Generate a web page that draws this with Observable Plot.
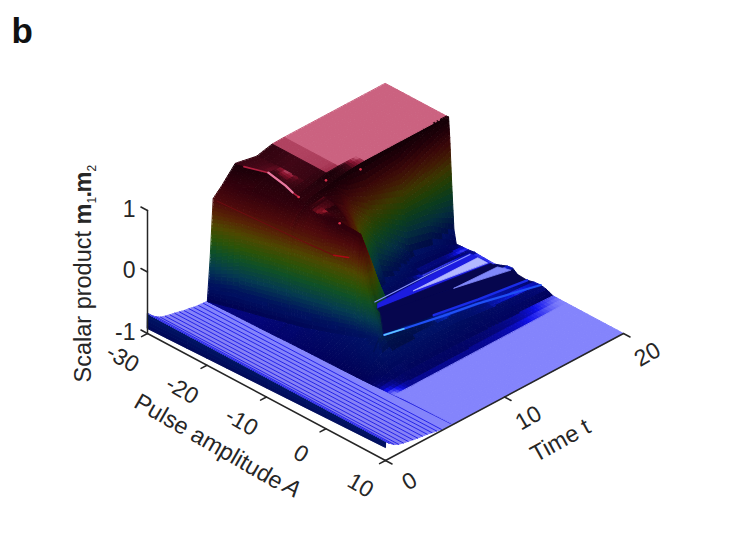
<!DOCTYPE html>
<html><head><meta charset="utf-8">
<style>html,body{margin:0;padding:0;background:#fff}svg{display:block}</style>
<script src="https://cdn.jsdelivr.net/npm/d3@7"></script>
<script src="https://cdn.jsdelivr.net/npm/@observablehq/plot@0.6"></script>
</head><body><div id="chart"></div>
<script>
// ---------- data ----------
const tickA=[-30,-20,-10,0,10], tickT=[0,10,20], tickZ=[-1,0,1];
// pulse amplitude stations
const ampl=[-30,-26,-22,-20.9,-19.7,-19.4,-19.2,-18.9,-18.5,-18.1,-17,-16,-15.3,-15,-14.6,-13.4,-12.4,-11.5,-10.5,-9.5,-8.6,-7.5,-6.7,-6,-5,-4,-3,-1.8,-.5,.5,2,10];
// times of the front wall knots at every station
const tFront=[
[5.04,5.06,5.3,5.55,6.3,7.4],[5.1,5.62,5.8,6.05,7,8.2],[5.15,6.1,6.3,6.55,7.3,8],[5.16,6.25,6.45,6.7,7.4,8],
[5.18,6.4,6.6,6.85,7.5,8],[5.18,6.42,6.62,6.87,7.5,8],[5.19,6.45,6.65,6.9,7.52,8],[5.19,6.49,6.69,6.94,7.55,8],
[5.2,6.54,6.74,6.98,7.56,8],[5.21,6.58,6.8,7.02,7.58,7.95],[5.23,6.71,6.93,7.15,7.6,7.9],[5.24,6.83,7.05,7.25,7.65,7.9],
[5.25,6.92,7.14,7.34,7.65,7.85],[5.25,6.96,7.18,7.38,7.65,7.85],[5.26,7,7.22,7.42,7.65,7.85],[5.27,7.15,7.35,7.55,7.7,7.9],
[5.28,7.25,7.45,7.65,7.8,8],[5.29,7.35,7.55,7.75,7.9,8.05],[5.3,7.45,7.65,7.85,8,8.15],[5.31,7.55,7.72,7.9,8.05,8.2],
[5.32,7.65,7.8,7.92,8.05,8.2],[5.33,7.75,7.87,7.97,8.08,8.2],[5.34,7.8,7.9,8,8.1,8.2],[5.35,7,7.5,7.8,8,8.2],
[5.36,6.5,7,7.5,7.8,8.2],[5.38,6.5,7,7.5,7.8,8.2],[5.4,6.5,7,7.5,7.8,8.2],[5.45,6.5,7,7.5,7.8,8.2],
[5.5,6.5,7,7.5,7.8,8.2],[5.55,6.5,7,7.5,7.8,8.2],[5.62,6.5,7,7.5,7.8,8.2],[5.7,6.5,7,7.5,7.8,8.2]];
// scalar product at the front wall knots
const zFront=[
[-1,-1,-.31,.62,.76,1],[-1,-.98,-.1,.62,.85,.97],[-1,-.96,-.05,.6,.8,.9],[-1,-.95,-.05,.6,.78,.88],
[-1,-.94,-.05,.58,.76,.85],[-1,-.94,-.05,.58,.76,.84],[-1,-.94,-.05,.57,.75,.83],[-1,-.93,-.05,.56,.74,.82],
[-1,-.93,-.05,.56,.73,.81],[-1,-.93,-.05,.55,.72,.8],[-1,-.92,-.05,.55,.72,.8],[-1,-.9,-.05,.55,.74,.82],
[-1,-.89,-.05,.55,.75,.84],[-1,-.89,-.05,.56,.76,.84],[-1,-.88,-.05,.58,.78,.85],[-1,-.86,-.05,.6,.75,.85],
[-1,-.84,-.05,.6,.72,.82],[-1,-.82,-.05,.57,.71,.81],[-1,-.8,-.05,.5,.68,.78],[-1,-.78,-.2,.25,.42,.5],
[-1,-.75,-.35,-.05,.05,.1],[-1,-.72,-.5,-.35,-.3,-.3],[-1,-.7,-.6,-.55,-.52,-.5],[-1,-.78,-.7,-.66,-.63,-.62],
[-1,-.85,-.78,-.75,-.73,-.72],[-1,-.89,-.84,-.82,-.81,-.8],[-1,-.93,-.9,-.89,-.88,-.87],[-1,-.97,-.95,-.94,-.94,-.94],
[-1,-.99,-.985,-.985,-.985,-.985],[-1,-1,-1,-1,-1,-1],[-1,-1,-1,-1,-1,-1],[-1,-1,-1,-1,-1,-1]];
// later times, shared by all stations
const tBack=[9.2,10.5,11.5,13,16,18,20];
const zBack=[
[.93,.993,1,1,1,1,1],[.95,.993,1,1,1,1,1],[.94,.992,1,1,1,1,1],[.93,.99,1,1,1,1,1],
[.9,.94,.98,1,1,1,1],[.88,.85,.7,.6,.7,.9,1],[.87,.8,.6,.45,.25,.45,.67],[.85,.75,.5,.25,-.05,-.05,0],
[.85,.7,.4,.05,-.4,-.5,-.78],[.84,.62,.3,-.1,-.7,-.8,-1],[.82,.5,.05,-.55,-.93,-.95,-.99],[.75,.35,-.25,-.8,-.95,-.97,-.985],
[.7,.2,-.7,-.9,-.93,-.95,-.975],[.65,0,-.85,-.92,-.93,-.95,-.97],[.6,-.1,-.88,-.93,-.945,-.96,-.975],[.45,-.5,-.9,-.95,-.955,-.97,-.98],
[.3,-.6,-.9,-.92,-.97,-.98,-.985],[.25,-.68,-.88,-.88,-.94,-.96,-.985],[.15,-.72,-.86,-.85,-.89,-.93,-.95],[-.1,-.72,-.85,-.83,-.9,-.91,-.91],
[-.4,-.72,-.82,-.81,-.94,-.94,-.9],[-.58,-.72,-.79,-.79,-.93,-.96,-.985],[-.64,-.72,-.76,-.78,-.89,-.95,-.99],[-.66,-.7,-.73,-.77,-.87,-.92,-.965],
[-.73,-.74,-.75,-.77,-.87,-.91,-.94],[-.8,-.8,-.8,-.81,-.88,-.91,-.93],[-.87,-.87,-.87,-.88,-.92,-.94,-.95],[-.94,-.94,-.94,-.95,-.97,-.985,-1],
[-.985,-.985,-.985,-.985,-.99,-.995,-1],[-1,-1,-1,-1,-1,-1,-1],[-1,-1,-1,-1,-1,-1,-1],[-1,-1,-1,-1,-1,-1,-1]];
// early-time ribs: t, z at A=-30, z at A=10
const ribT=[.02,.3,.7,1.1,1.5,1.9,2.3,2.7,3.1,3.5,3.9,4.3,4.7,5.04];
const ribZLeft=[-.675,-.74,-.8,-.85,-.875,-.895,-.91,-.93,-.95,-.96,-.98,-.99,-.995,-1];
const ribZRight=[-.64,-.75,-.81,-.85,-.87,-.885,-.9,-.915,-.925,-.935,-.95,-.965,-.98,-.99];
const skirtBottom=[-.92,-.79];
// terraces behind the ridge: [A,t,z] outlines
const zT=-.95;
const wedgeN1=[[-14.1,11.4,zT],[-11.7,19.7,zT],[-10.6,19.7,zT],[-10.9,16.2,zT],[-13.2,11.2,zT]];
const wedgeN2=[[-13.2,11.2,zT],[-10.9,16.2,zT],[-9,20,zT],[-5.9,19.9,zT],[-8.3,13.2,zT],[-9.7,9.7,zT]];
const bandE=[[-14.9,11.8,zT],[-15,19.6,zT],[-11.7,19.7,zT],[-14.1,11.4,zT]];
const paleE=[[-13.9,14.3,zT],[-13.7,19.6,zT],[-12.1,19.6,zT]];
const pale2=[[-10.9,16.2,zT],[-10.6,19.7,zT],[-9,20,zT]];
// bright crests and creases: [A,t,z]
const crestR1=[[-6.2,8,-.62],[-6.1,9.6,-.68],[-5.5,12.6,-.75],[-5.5,15.5,-.85],[-3.9,20,-.93]];
const crestR3=[[-6.7,12.4,-.78],[-6.4,16,-.88],[-6,19.9,-.95]];
const crestE1=[[-15,11.6,-.91],[-15,16,-.93],[-15,19.6,-.965]];
const stepEdge=[[-2,5.5,-1],[3.5,5.62,-1],[9.5,5.72,-1]];
const pinkCrest=[[-29,7.6,.98],[-26.1,8.2,.97],[-23,8.1,.93],[-21.6,8,.9],[-20.6,8,.88]];
const foldLine=[[-29.5,5.6,.6],[-24,6.3,.5],[-18,7,.4],[-13.5,7.4,.36],[-11.5,7.65,.4]];
const specks=[[-20.6,8,.88],[-21.2,10.6,.85],[-13.3,7.8,.85],[-21,13.4,.75]];

// ---------- oblique view of the axes box ----------
const view=(A,t,z)=>[147+(A+30)*5.95+t*11.9, 333+(A+30)*3.175-t*6.35-(z+1)*61.5];
const depth=(A,t,z)=>A/40-t/20+1.035*z;

// ---------- shading ----------
const wallStops=[[-1,[0,0,80]],[-.7,[0,20,100]],[-.45,[5,62,85]],[-.2,[15,85,42]],[0,[45,88,8]],[.2,[82,76,0]],[.4,[92,38,5]],[.6,[82,10,12]],[.8,[50,0,12]],[1,[24,0,8]]];
const midStops=[[-1,[15,15,235]],[-.6,[0,60,200]],[0,[80,170,20]],[.4,[190,80,10]],[.7,[150,20,30]],[1,[135,18,48]]];
const flatStops=[[-1,[132,132,252]],[1,[203,98,128]]];
function ramp(st,z){z=Math.max(-1,Math.min(1,z));
  for(let i=1;i<st.length;i++) if(z<=st[i][0]){const f=(z-st[i-1][0])/(st[i][0]-st[i-1][0]);
    return st[i][1].map((c,k)=>st[i-1][1][k]+(c-st[i-1][1][k])*f);}
  return st[st.length-1][1];}
const mix=(a,b,f)=>a.map((c,k)=>c+(b[k]-c)*f);
function colour(z,L,side){
  let c=L<.55?mix(ramp(wallStops,z),ramp(midStops,z),Math.pow(L/.55,1.6)):mix(ramp(midStops,z),ramp(flatStops,z),(L-.55)/.45);
  if(z>-.75&&L<.4) c=c.map(v=>v*(1-.3*side));
  return d3.rgb(c[0],c[1],c[2]).formatHex();}
function cell(p00,p10,p01,p11,K,out){
  const len=(p,q)=>{const a=view(...p),b=view(...q);return Math.hypot(a[0]-b[0],a[1]-b[1]);};
  const nu=Math.min(12,Math.max(1,Math.ceil(Math.max(len(p00,p10),len(p01,p11))/7)));
  const nv=Math.min(16,Math.max(1,Math.ceil(Math.max(len(p00,p01),len(p10,p11))/4)));
  const at=(u,v)=>p00.map((_,k)=>(1-u)*(1-v)*p00[k]+u*(1-v)*p10[k]+(1-u)*v*p01[k]+u*v*p11[k]);
  for(let i=0;i<nu;i++)for(let j=0;j<nv;j++){
    const a=at(i/nu,j/nv),b=at((i+1)/nu,j/nv),c=at((i+1)/nu,(j+1)/nv),d=at(i/nu,(j+1)/nv);
    const d1=[(c[0]-a[0])/40,(c[1]-a[1])/20,(c[2]-a[2])*K],d2=[(d[0]-b[0])/40,(d[1]-b[1])/20,(d[2]-b[2])*K];
    const n=[d1[1]*d2[2]-d1[2]*d2[1],d1[2]*d2[0]-d1[0]*d2[2],d1[0]*d2[1]-d1[1]*d2[0]];
    const m=Math.hypot(...n)||1, L=Math.abs(n[2])/m;
    const side=Math.abs(n[0])/((Math.abs(n[0])+Math.abs(n[1]))||1);
    const zm=(a[2]+b[2]+c[2]+d[2])/4;
    out.push({type:"Feature",properties:{color:colour(zm,L,side),depth:depth((a[0]+c[0])/2,(a[1]+c[1])/2,zm)},
      geometry:{type:"Polygon",coordinates:[[view(...a),view(...b),view(...c),view(...d),view(...a)]]}});
  }
}
// early-time patch with its skirt
const earlyFaces=[];
cell([-30,0,skirtBottom[0]],[10,0,skirtBottom[1]],[-30,.015,ribZLeft[0]],[10,.015,ribZRight[0]],3,earlyFaces);
for(let i=0;i+1<ribT.length;i++){
  const rightT=i+2===ribT.length?5.7:ribT[i+1];
  cell([-30,ribT[i],ribZLeft[i]],[10,ribT[i],ribZRight[i]],[-30,ribT[i+1],ribZLeft[i+1]],[10,rightT,ribZRight[i+1]],.13,earlyFaces);
}
// main surface
const faces=[];
const knot=(i,k)=>k<6?[ampl[i],tFront[i][k],zFront[i][k]]:[ampl[i],tBack[k-6],zBack[i][k-6]];
for(let i=0;i+1<ampl.length;i++)for(let k=0;k<12;k++)
  cell(knot(i,k),knot(i+1,k),knot(i,k+1),knot(i+1,k+1),5,faces);
faces.sort((a,b)=>a.properties.depth-b.properties.depth);

const pts=(list)=>list.map(p=>{const v=view(...p);return {x:v[0],y:v[1]};});
const line=(list,stroke,w,op=1)=>Plot.line(pts(list),{x:"x",y:"y",stroke:()=>stroke,strokeWidth:w,strokeOpacity:op});
const ribLines=ribT.slice(1,-1).map((t,i)=>[[-30,t,ribZLeft[i+1]],[10,t,ribZRight[i+1]]]);
const geo=(list)=>Plot.geo(list,{fill:d=>d.properties.color,stroke:d=>d.properties.color,strokeWidth:1});
const patch=(list,color,blur=.8)=>Plot.geo([{type:"Feature",properties:{color},geometry:{type:"Polygon",coordinates:[[...list,list[0]].map(p=>view(...p))]}}],{fill:d=>d.properties.color,stroke:d=>d.properties.color,strokeWidth:blur});

// axes
const ink="#262626";
const axisPaths=[[[-30,0,-1],[10,0,-1]],[[10,0,-1],[10,20,-1]],[[-30,0,-1],[-30,0,1]],
  ...tickA.map(a=>[[a,0,-1],[a,-.5,-1]]),...tickT.map(t=>[[10,t,-1],[11.1,t,-1]]),...tickZ.map(z=>[[-30,0,z],[-31.1,0,z]])];
const axisFont={fontFamily:"Liberation Sans, Arial, sans-serif",fill:ink};
const tickSize=23,labelSize=23.5;
const tl=(list,opts)=>Plot.text(list.map(d=>{const v=view(...d.p);return {x:v[0],y:v[1],s:d.s};}),{x:"x",y:"y",text:"s",fontSize:tickSize,...axisFont,...opts});
const frameText=(s,dx,dy,o)=>Plot.text([s],{frameAnchor:"top-left",dx,dy,fontSize:labelSize,textAnchor:"start",lineAnchor:"bottom",...axisFont,...o});

const chart=Plot.plot({
  width:747,height:560,margin:0,
  projection:d3.geoIdentity(),
  color:{type:"identity"},
  style:{background:"#fff"},
  marks:[
    geo(earlyFaces),
    ...ribLines.map(r=>line(r,"#1a1ae8",1,.9)),
    line(stepEdge,"#2626e0",2.4),
    geo(faces),
    patch(bandE,"#1c1ce0"),
    patch(paleE,"#b4b8ff"),
    patch(wedgeN1,"#06064e"),
    patch(wedgeN2,"#06064e"),
    patch(pale2,"#8088fa"),
    line(crestR3,"#1a2ce8",2.4),
    line(crestR1,"#1f50f5",2.2),
    line(crestR1.slice(0,2),"#5fc8ff",1.6),
    line(crestE1,"#8a94ff",1.1),
    line(pinkCrest,"#b02040",1.6),
    line(pinkCrest.slice(1,4),"#e87aa0",2.2),
    line(foldLine,"#6e0a10",1),
    line(foldLine.slice(-2),"#a80c14",1.5),
    Plot.dot(pts(specks),{x:"x",y:"y",r:1.3,fill:()=>"#d8304a"}),
    ...axisPaths.map(p=>line(p,ink,1.5)),
    tl(tickA.map(a=>({p:[a,0,-1],s:String(a)})),{dx:-25,dy:25,rotate:30}),
    tl(tickT.map(t=>({p:[10,t,-1],s:String(t)})),{dx:24,dy:21,rotate:-30}),
    tl(tickZ.map(z=>({p:[-30,0,z],s:String(z)})),{dx:-12,dy:-1,textAnchor:"end"}),
    frameText("Pulse amplitude",132,406,{rotate:30}),
    frameText("A",281,490,{rotate:30,fontStyle:"italic"}),
    frameText("Time t",560,440,{rotate:-29,textAnchor:"middle",lineAnchor:"middle"}),
    frameText("Scalar product",90,382,{rotate:-90}),
    frameText("m",90,224,{rotate:-90,fontWeight:"bold"}),
    frameText("1",95,203,{rotate:-90,fontSize:12}),
    frameText(".",90,197,{rotate:-90,fontWeight:"bold"}),
    frameText("m",90,192,{rotate:-90,fontWeight:"bold"}),
    frameText("2",95,171,{rotate:-90,fontSize:12}),
    frameText("b",11,42,{fontSize:35,fontWeight:"bold",fill:"#111"})
  ]
});
document.getElementById("chart").append(chart);
</script></body></html>
